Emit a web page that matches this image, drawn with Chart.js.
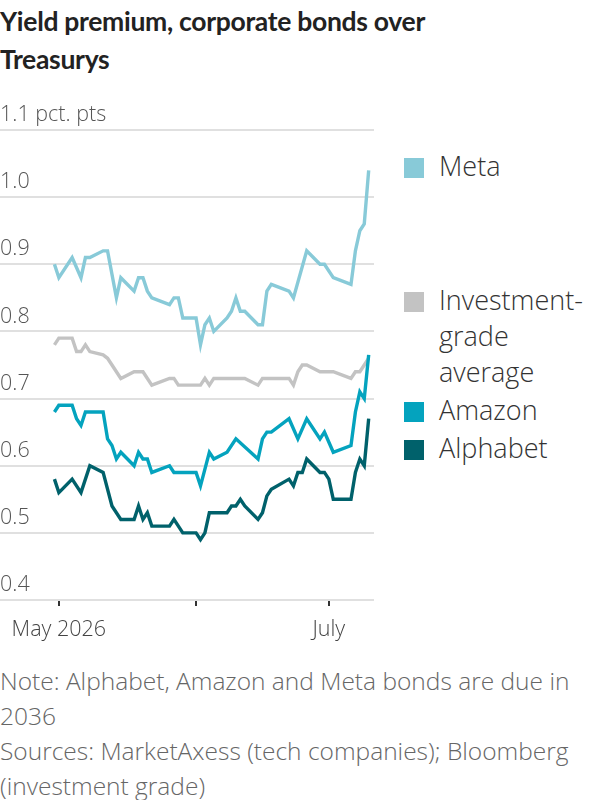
<!DOCTYPE html>
<html>
<head>
<meta charset="utf-8">
<script src="https://cdn.jsdelivr.net/npm/chart.js@4.4.1/dist/chart.umd.min.js"></script>
<style>
  html, body { margin: 0; padding: 0; background: #fff; }
  body { width: 600px; height: 800px; position: relative; overflow: hidden; font-family: 'Open Sans', 'Noto Sans', sans-serif; }
  #titulo { position: absolute; left: 0; top: 2px; font-family: 'Lato', sans-serif; font-size: 26.5px; font-weight: 700; color: #222; line-height: 38px; letter-spacing: -0.3px; }
  #grafico { position: absolute; left: 0; top: 100px; }
  .leyenda { position: absolute; left: 404px; font-size: 27px; font-weight: 300; color: #333; line-height: 36px; }
  .leyenda i { position: absolute; left: 0; width: 20px; height: 20px; }
  .leyenda span { position: absolute; left: 35px; white-space: nowrap; }
  #notas { position: absolute; left: 0; top: 663px; font-size: 24.5px; font-weight: 300; color: #666; line-height: 35px; white-space: nowrap; }
</style>
</head>
<body>
<div id="titulo">Yield premium, corporate bonds over<br>Treasurys</div>
<canvas id="grafico" width="380" height="546"></canvas>
<div id="leyendas"></div>
<div id="notas">Note: Alphabet, Amazon and Meta bonds are due in<br>2036<br>Sources: MarketAxess (tech companies); Bloomberg<br>(investment grade)</div>

<script>
// Fechas (días hábiles)
const fechas = [
  '2026-04-30', '2026-05-01', '2026-05-04', '2026-05-05', '2026-05-06', '2026-05-07', '2026-05-08',
  '2026-05-11', '2026-05-12', '2026-05-13', '2026-05-14', '2026-05-15', '2026-05-18', '2026-05-19',
  '2026-05-20', '2026-05-21', '2026-05-22', '2026-05-26', '2026-05-27', '2026-05-28', '2026-05-29',
  '2026-06-01', '2026-06-02', '2026-06-03', '2026-06-04', '2026-06-05', '2026-06-08', '2026-06-09',
  '2026-06-10', '2026-06-11', '2026-06-12', '2026-06-15', '2026-06-16', '2026-06-17', '2026-06-18',
  '2026-06-22', '2026-06-23', '2026-06-24', '2026-06-25', '2026-06-26', '2026-06-29', '2026-06-30',
  '2026-07-01', '2026-07-02', '2026-07-06', '2026-07-07', '2026-07-08', '2026-07-09', '2026-07-10'
];

// Valores (null = sin dato)
const meta = [
  0.90, 0.88, 0.91, null, 0.88, 0.91, 0.91,
  0.92, 0.92, null, 0.85, 0.88, 0.86, 0.88,
  0.88, 0.86, 0.85, 0.84, 0.85, 0.85, 0.82,
  0.82, 0.78, 0.81, 0.82, 0.80, 0.82, 0.83,
  0.85, 0.83, 0.83, 0.81, 0.81, 0.86, 0.87,
  0.86, 0.85, null, null, 0.92, 0.90, 0.90,
  null, 0.88, 0.87, 0.92, 0.95, 0.96, 1.04
];
const gradoInversion = [
  0.78, 0.79, 0.79, 0.77, 0.77, 0.78, 0.77,
  0.765, 0.76, null, null, 0.73, 0.74, null,
  0.74, null, 0.72, 0.73, 0.73, 0.72, null,
  0.72, 0.72, 0.73, 0.72, 0.73, null, null,
  null, null, 0.73, 0.72, 0.73, null, null,
  0.73, 0.72, 0.74, 0.75, 0.75, 0.74, null,
  null, 0.74, 0.73, 0.74, 0.74, 0.75, 0.76
];
const amazon = [
  0.68, 0.69, 0.69, 0.67, 0.66, 0.68, null,
  0.68, 0.64, 0.63, 0.61, 0.62, 0.60, 0.62,
  0.61, 0.61, 0.59, 0.60, 0.59, null, null,
  0.59, 0.57, null, 0.62, 0.61, 0.62, null,
  0.64, null, null, 0.61, 0.64, 0.65, 0.65,
  0.67, null, 0.64, null, 0.67, 0.64, 0.65,
  null, 0.62, 0.63, 0.68, 0.71, 0.70, 0.765
];
const alphabet = [
  0.58, 0.56, 0.58, null, 0.56, null, 0.60,
  0.59, null, 0.54, null, 0.52, 0.52, 0.54,
  0.52, 0.53, 0.51, 0.51, 0.52, null, 0.50,
  0.50, 0.49, 0.50, 0.53, null, 0.53, 0.54,
  0.54, 0.55, 0.54, 0.52, 0.53, 0.555, 0.565,
  0.58, 0.57, 0.59, 0.59, 0.61, 0.59, 0.59,
  0.58, 0.55, 0.55, 0.59, 0.61, 0.60, 0.67
];

// Ejes
const marcasX = [0, 31, 61];               // 1 may, 1 jun, 1 jul (días desde 1 may)
const etiquetasX = ['May 2026', '', 'July'];
const marcasY = [0.4, 0.5, 0.6, 0.7, 0.8, 0.9, 1.0, 1.1];

const series = [
  { nombre: 'Amazon', datos: amazon, color: '#04a3be' },
  { nombre: 'Alphabet', datos: alphabet, color: '#00616b' },
  { nombre: 'Investment-grade average', datos: gradoInversion, color: '#c3c3c3' },
  { nombre: 'Meta', datos: meta, color: '#88cad8' }
];

const leyendas = [
  { texto: 'Meta', color: '#88cad8', top: 148 },
  { texto: 'Investment-<br>grade<br>average', color: '#c3c3c3', top: 282 },
  { texto: 'Amazon', color: '#04a3be', top: 392 },
  { texto: 'Alphabet', color: '#00616b', top: 430 }
];

function diaDesdeMayo(fecha) {
  const f = new Date(fecha + 'T00:00:00Z');
  return (f - Date.UTC(2026, 4, 1)) / 86400000;
}

document.addEventListener('DOMContentLoaded', function() {
  const cont = document.getElementById('leyendas');
  leyendas.forEach(l => {
    const div = document.createElement('div');
    div.className = 'leyenda';
    div.style.top = l.top + 'px';
    div.innerHTML = `<i style="background:${l.color};top:10px"></i><span>${l.texto}</span>`;
    cont.appendChild(div);
  });

  const fuenteEjes = { family: 'Open Sans', size: 21.5, weight: 300 };

  const ctx = document.getElementById('grafico').getContext('2d');
  new Chart(ctx, {
    type: 'line',
    data: {
      datasets: series.map(s => ({
        label: s.nombre,
        data: fechas.map((f, i) => ({ x: diaDesdeMayo(f), y: s.datos[i] })),
        borderColor: s.color,
        borderWidth: 3.4,
        pointRadius: 0,
        tension: 0,
        spanGaps: true,
        borderJoinStyle: 'miter'
      }))
    },
    options: {
      responsive: false,
      animation: false,
      devicePixelRatio: 1,
      layout: { padding: { top: 30, right: 6, left: 0, bottom: 0 } },
      plugins: { legend: { display: false }, tooltip: { enabled: false } },
      scales: {
        x: {
          type: 'linear',
          min: -13.3,
          max: 71.2,
          afterBuildTicks: scale => { scale.ticks = marcasX.map(v => ({ value: v })); },
          afterFit: scale => { scale.height = 46; },
          border: { display: false },
          grid: { drawOnChartArea: false, drawTicks: true, tickLength: 6, color: '#333', lineWidth: 2 },
          ticks: {
            autoSkip: false,
            maxRotation: 0,
            padding: 11,
            color: '#444',
            font: fuenteEjes,
            callback: (v) => {
              const i = marcasX.indexOf(v);
              return i >= 0 ? etiquetasX[i] : '';
            }
          }
        },
        y: {
          min: 0.4,
          max: 1.1,
          afterBuildTicks: scale => { scale.ticks = marcasY.map(v => ({ value: v })); },
          afterFit: scale => { scale.width = 0; },
          border: { display: false },
          grid: { color: '#e0e0e0', lineWidth: 2, drawTicks: false },
          ticks: {
            mirror: true,
            padding: 0,
            labelOffset: -15,
            color: '#555',
            font: fuenteEjes,
            callback: (v) => Math.abs(v - 1.1) < 1e-6 ? '1.1 pct. pts' : v.toFixed(1)
          }
        }
      }
    }
  });
});
</script>
</body>
</html>
